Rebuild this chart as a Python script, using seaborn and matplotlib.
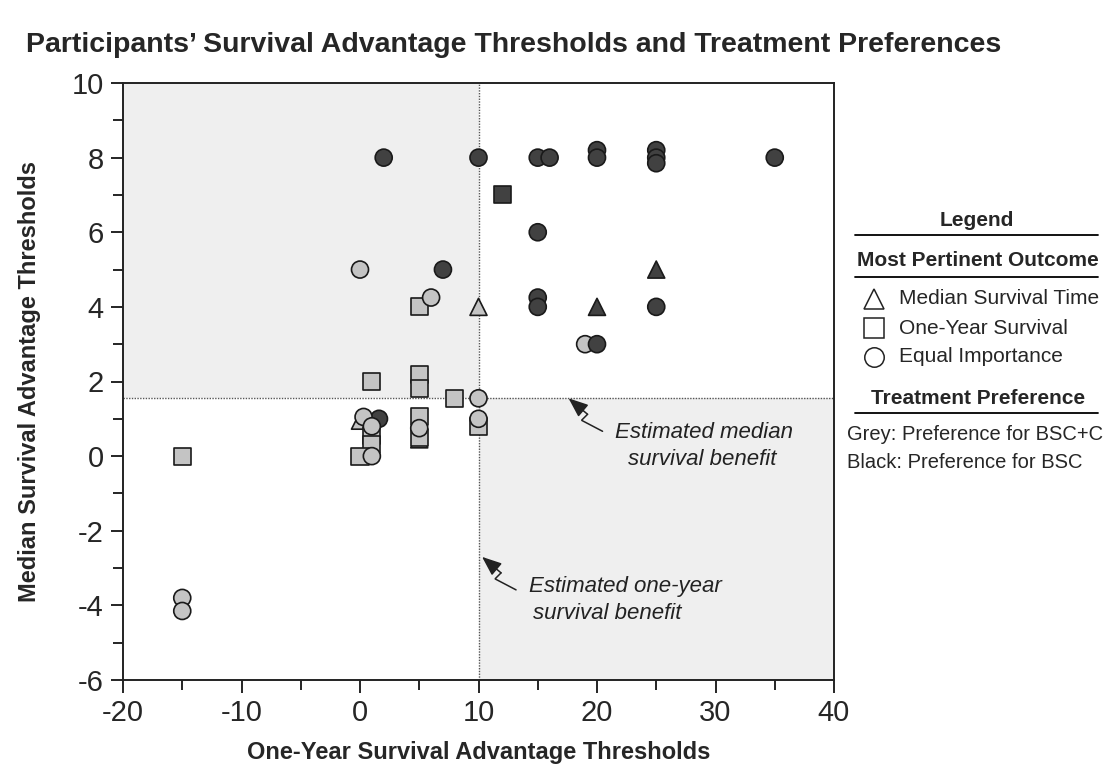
import matplotlib
matplotlib.use("Agg")
import matplotlib.pyplot as plt
import seaborn as sns
import pandas as pd
from matplotlib.lines import Line2D
from matplotlib.ticker import MultipleLocator

# Each participant: one-year threshold, median threshold, most pertinent outcome, preferred treatment
# (order of the rows sets which marker sits on top)
one_year = [1.6,
            10, 0, 5,
            5, 1, 5, 5, 8, 10, 5, 5, 1, 1, 0, -15,
            0, 6, 19, 10, 10, 0.3, 1, 5, 1, -15, -15,
            2, 10, 15, 16, 20, 20, 25, 25, 25, 35, 15, 7, 15, 15, 25, 20,
            12,
            25, 20]
median_surv = [1.0,
               4, 0.95, 0.45,
               4, 2, 2.2, 1.8, 1.55, 0.8, 1.05, 0.5, 0.55, 0.3, 0, 0,
               5, 4.25, 3, 1.55, 1.0, 1.05, 0.8, 0.75, 0, -3.8, -4.15,
               8, 8, 8, 8, 8.2, 8, 8.2, 8, 7.85, 8, 6, 5, 4.25, 4, 4, 3,
               7,
               5, 4]
outcome = (["Equal Importance"]
           + ["Median Survival Time"] * 3
           + ["One-Year Survival"] * 12
           + ["Equal Importance"] * 11
           + ["Equal Importance"] * 16
           + ["One-Year Survival"]
           + ["Median Survival Time"] * 2)
preference = (["BSC"]
              + ["BSC+C"] * 26
              + ["BSC"] * 19)

MEDIAN_BENEFIT = 1.55
ONE_YEAR_BENEFIT = 10

df = pd.DataFrame({"one_year": one_year, "median": median_surv,
                   "outcome": outcome, "preference": preference})

sns.set_theme(style="white")
plt.rcParams["font.family"] = ["Liberation Sans", "DejaVu Sans"]
plt.rcParams["axes.unicode_minus"] = False

fig = plt.figure(figsize=(11.2, 7.8), dpi=100)
ax = fig.add_axes([123 / 1120, 1 - 680 / 780, (834 - 123) / 1120, (680 - 83) / 780])

# shaded quadrants
shade = "#efefef"
ax.fill_between([-20, ONE_YEAR_BENEFIT], MEDIAN_BENEFIT, 10, color=shade, lw=0, zorder=0)
ax.fill_between([ONE_YEAR_BENEFIT, 40], -6, MEDIAN_BENEFIT, color=shade, lw=0, zorder=0)
ax.axvline(ONE_YEAR_BENEFIT, color="#555555", ls=(0, (1, 1)), lw=1, zorder=1)
ax.axhline(MEDIAN_BENEFIT, color="#555555", ls=(0, (1, 1)), lw=1, zorder=1)

sns.scatterplot(data=df, x="one_year", y="median", hue="preference", style="outcome",
                palette={"BSC+C": "#c4c4c4", "BSC": "#414141"},
                markers={"Median Survival Time": "^", "One-Year Survival": "s",
                         "Equal Importance": "o"},
                s=150, edgecolor="#1a1a1a", linewidth=1.2, legend=False, ax=ax, zorder=3)

ax.set_xlim(-20, 40)
ax.set_ylim(-6, 10)
ax.xaxis.set_major_locator(MultipleLocator(10))
ax.xaxis.set_minor_locator(MultipleLocator(5))
ax.yaxis.set_major_locator(MultipleLocator(2))
ax.yaxis.set_minor_locator(MultipleLocator(1))
ax.tick_params(which="both", direction="out", color="black", width=1.2,
               bottom=True, left=True, top=False, right=False)
ax.tick_params(which="major", length=9, labelsize=21, pad=5)
ax.tick_params(which="minor", length=7)
for sp in ax.spines.values():
    sp.set_color("#222222")
    sp.set_linewidth(1.4)

ax.set_xlabel("One-Year Survival Advantage Thresholds", fontsize=17,
              fontweight="bold", labelpad=10)
ax.set_ylabel("Median Survival Advantage Thresholds", fontsize=17,
              fontweight="bold", labelpad=22)

fig.text(514 / 1120, 1 - 45 / 780,
         "Participants\u2019 Survival Advantage Thresholds and Treatment Preferences",
         ha="center", va="center", fontsize=20.5, fontweight="bold")

# pixel -> data scale, for drawing the little zig-zag arrows
PX_X = 60 / (834 - 123)
PX_Y = 16 / (680 - 83)


def bolt(head):
    # lightning-style pointer ending at head, offsets in pixels
    hx, hy = head
    p1 = (hx + 19 * PX_X, hy - 16 * PX_Y)
    p2 = (hx + 13 * PX_X, hy - 22 * PX_Y)
    tail = (hx + 34 * PX_X, hy - 33 * PX_Y)
    ax.plot([p1[0], p2[0], tail[0]], [p1[1], p2[1], tail[1]], color="#222222",
            lw=1.1, zorder=4, solid_joinstyle="miter")
    ax.annotate("", xy=head, xytext=p1,
                arrowprops=dict(arrowstyle="-|>,head_length=1.0,head_width=0.4",
                                color="#222222", lw=1.1, shrinkA=0, shrinkB=0), zorder=4)


bolt((17.6, MEDIAN_BENEFIT))
bolt((10.3, -2.7))
notes = [(29.0, 0.64, "Estimated median"), (28.9, -0.08, "survival benefit"),
         (22.4, -3.5, "Estimated one-year"), (20.9, -4.22, "survival benefit")]
for nx, ny, txt in notes:
    ax.text(nx, ny, txt, ha="center", va="center", fontsize=16, style="italic",
            color="#222222")


# hand-drawn legend on the right
def fx(px):
    return px / 1120


def fy(py):
    return 1 - py / 780


def rule(y):
    fig.add_artist(Line2D([fx(855), fx(1098)], [fy(y), fy(y)], color="black", lw=1.3))


fig.text(fx(977), fy(220), "Legend", ha="center", va="center", fontsize=15, fontweight="bold")
rule(235)
fig.text(fx(978), fy(261), "Most Pertinent Outcome", ha="center", va="center",
         fontsize=15, fontweight="bold")
rule(277)
legend_items = [("^", "Median Survival Time", 299),
                ("s", "One-Year Survival", 328),
                ("o", "Equal Importance", 357)]
for mk, label, y in legend_items:
    fig.add_artist(Line2D([fx(874)], [fy(y)], marker=mk, markersize=15 if mk == "^" else 14,
                          markerfacecolor="white", markeredgecolor="#222222",
                          markeredgewidth=1.1, lw=0))
    fig.text(fx(899), fy(y), label, ha="left", va="center", fontsize=15)
fig.text(fx(978), fy(399), "Treatment Preference", ha="center", va="center",
         fontsize=15, fontweight="bold")
rule(413)
fig.text(fx(847), fy(435), "Grey: Preference for BSC+C", ha="left", va="center", fontsize=14.5)
fig.text(fx(847), fy(463), "Black: Preference for BSC", ha="left", va="center", fontsize=14.5)

fig.savefig("out.png", dpi=100, facecolor="white")
